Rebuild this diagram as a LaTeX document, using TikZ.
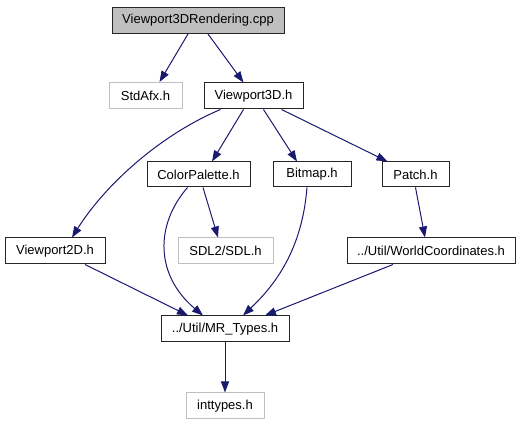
\documentclass[tikz,border=0pt]{standalone}
\usepackage{fontspec}
\setmainfont{Liberation Sans}
\usetikzlibrary{arrows.meta, positioning}
\definecolor{edgeblue}{HTML}{191970}
\definecolor{boxgray}{HTML}{BFBFBF}
\tikzset{
	filebox/.style={draw=black!85, line width=1pt, fill=white, inner sep=0pt,
		minimum height=26pt, font=\fontsize{13}{15}\selectfont}
}
\tikzset{
	graybox/.style={filebox, draw=boxgray},
	curbox/.style={filebox, fill=boxgray},
	incl/.style={draw=edgeblue, line width=1pt, -{Triangle[length=11pt, width=8pt]}}
}
\begin{document}
\begin{tikzpicture}[x=1pt, y=1pt]
      \useasboundingbox (0,0) rectangle (520,-427);
      % files
      \node[curbox, minimum width=172pt] (rend) at (198,-20.5) {Viewport3DRendering.cpp};
      \node[graybox, minimum width=73pt] (stdafx) at (145.5,-95.5) {StdAfx.h};
      \node[filebox, minimum width=99pt] (v3d) at (253.5,-96) {Viewport3D.h};
      \node[filebox, minimum width=103pt, minimum height=25pt] (cpal) at (198.5,-174.5) {ColorPalette.h};
      \node[filebox, minimum width=78pt, minimum height=25pt] (bmp) at (312,-174.5) {Bitmap.h};
      \node[filebox, minimum width=67pt, minimum height=25pt] (patch) at (415.5,-174.5) {Patch.h};
      \node[filebox, minimum width=100pt] (v2d) at (55,-251) {Viewport2D.h};
      \node[graybox, minimum width=95pt] (sdl) at (225.5,-251) {SDL2/SDL.h};
      \node[filebox, minimum width=168pt] (world) at (431,-251) {../Util/WorldCoordinates.h};
      \node[filebox, minimum width=128pt] (mrt) at (225,-329) {../Util/MR\_Types.h};
      \node[graybox, minimum width=78pt] (intt) at (225,-406) {inttypes.h};
      % includes
      \draw[incl] ([xshift=-10pt]rend.south) -- ([xshift=14pt]stdafx.north);
      \draw[incl] ([xshift=10pt]rend.south) -- ([xshift=-10pt]v3d.north);
      \draw[incl] ([xshift=-33pt]v3d.south) .. controls (160,-135) and (105,-185) .. ([xshift=17pt]v2d.north);
      \draw[incl] ([xshift=-10pt]v3d.south) -- ([xshift=13.5pt]cpal.north);
      \draw[incl] ([xshift=10pt]v3d.south) -- ([xshift=-15pt]bmp.north);
      \draw[incl] ([xshift=28pt]v3d.south) -- ([xshift=-28pt]patch.north);
      \draw[incl] ([xshift=4.5pt]cpal.south) -- ([xshift=-7.5pt]sdl.north);
      \draw[incl] ([xshift=-11pt]cpal.south) .. controls (155,-225) and (155,-275) .. ([xshift=-22pt]mrt.north);
      \draw[incl] ([xshift=-5pt]bmp.south) .. controls (302,-250) and (275,-285) .. ([xshift=18pt]mrt.north);
      \draw[incl] (patch.south) -- ([xshift=-6pt]world.north);
      \draw[incl] ([xshift=30pt]v2d.south) -- ([xshift=-37pt]mrt.north);
      \draw[incl] ([xshift=-38pt]world.south) -- ([xshift=40pt]mrt.north);
      \draw[incl] (mrt.south) -- (intt.north);
\end{tikzpicture}
\end{document}
